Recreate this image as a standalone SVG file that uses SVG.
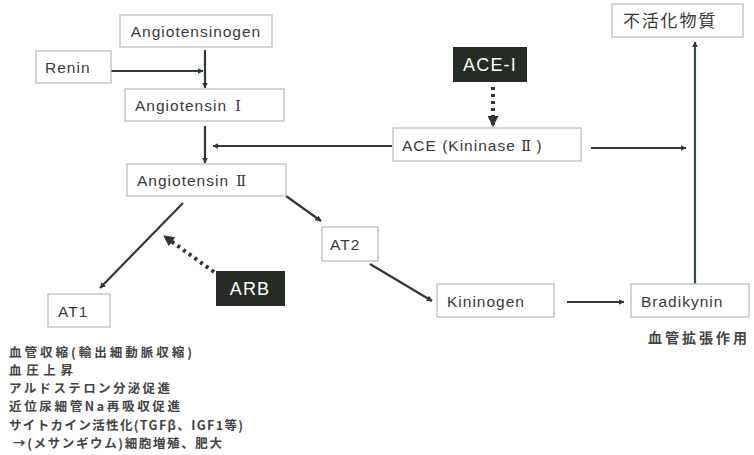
<svg xmlns="http://www.w3.org/2000/svg" width="754" height="455" viewBox="0 0 754 455">
<defs>
<marker id="ah" viewBox="0 0 10 10" refX="9" refY="5" markerWidth="6" markerHeight="6" orient="auto" markerUnits="userSpaceOnUse">
<path d="M0,0 L10,5 L0,10 z" fill="#2f3a2f"/>
</marker>
<marker id="ah2" viewBox="0 0 10 10" refX="9" refY="5" markerWidth="11" markerHeight="11" orient="auto" markerUnits="userSpaceOnUse">
<path d="M0,0 L10,5 L0,10 z" fill="#2f3a2f"/>
</marker>
<style>
.box{fill:#fff;stroke:#b8b8b8;stroke-width:1.2}
.dark{fill:#262b26;stroke:none}
.t{font-family:"Liberation Sans",Arial,sans-serif;font-size:15.5px;letter-spacing:1px;fill:#3a3a3a}
.r{font-family:"DejaVu Serif","Liberation Serif",serif;font-size:15px;letter-spacing:0}
.w{font-family:"Liberation Sans",Arial,sans-serif;font-size:18px;letter-spacing:1.2px;fill:#fff}
.j{font-family:"Noto Sans CJK JP","Noto Sans",sans-serif;font-size:12.5px;fill:#444;font-weight:bold}
.ln{stroke:#2f3a2f;stroke-width:2.2;fill:none;marker-end:url(#ah)}
.dt{stroke:#2f3a2f;stroke-width:4;fill:none;stroke-dasharray:3 4;marker-end:url(#ah2)}
</style>
</defs>
<rect width="754" height="455" fill="#fff"/>
<g id="connectors">
<line class="ln" x1="205" y1="50" x2="205" y2="88"/>
<line class="ln" x1="111" y1="71" x2="203" y2="71"/>
<line class="ln" x1="205" y1="126" x2="205" y2="163"/>
<line class="ln" x1="392" y1="146" x2="213" y2="146"/>
<line class="ln" x1="591" y1="148" x2="686" y2="148"/>
<line class="ln" x1="695" y1="284" x2="695" y2="42" style="stroke:#35503f"/>
<line class="ln" x1="183" y1="203" x2="100" y2="288"/>
<line class="ln" x1="286" y1="196" x2="321" y2="221"/>
<line class="ln" x1="370" y1="264" x2="432" y2="301"/>
<line class="ln" x1="567" y1="302" x2="624" y2="302"/>
<line class="dt" x1="493" y1="87" x2="493" y2="126"/>
<line class="dt" x1="214" y1="272" x2="164" y2="236"/>
</g>
<g id="angiotensinogen"><rect class="box" x="120" y="15" width="152" height="32"/><text class="t" x="196" y="37" text-anchor="middle">Angiotensinogen</text></g>
<g id="renin"><rect class="box" x="36" y="51" width="75" height="32"/><text class="t" x="45" y="73">Renin</text></g>
<g id="angiotensin1"><rect class="box" x="125" y="89" width="159" height="32"/><text class="t" x="135" y="111">Angiotensin <tspan class="r" x="235">Ⅰ</tspan></text></g>
<g id="angiotensin2"><rect class="box" x="127" y="164" width="159" height="32"/><text class="t" x="137" y="186">Angiotensin <tspan class="r" x="236">Ⅱ</tspan></text></g>
<g id="ace-i"><rect class="dark" x="453" y="47" width="74" height="35"/><text class="w" x="490" y="71" text-anchor="middle">ACE-I</text></g>
<g id="ace"><rect class="box" x="393" y="128" width="188" height="33"/><text class="t" x="402" y="151">ACE (Kininase <tspan class="r">Ⅱ</tspan> )</text></g>
<g id="inactive"><rect class="box" x="612" y="4" width="131" height="33"/><text class="j" x="623" y="27" style="font-size:17px;letter-spacing:1.8px;font-weight:normal;fill:#3a3a3a">不活化物質</text></g>
<g id="at1"><rect class="box" x="48" y="294" width="62" height="33"/><text class="t" x="58" y="317">AT1</text></g>
<g id="arb"><rect class="dark" x="216" y="271" width="69" height="35"/><text class="w" x="250" y="295" text-anchor="middle">ARB</text></g>
<g id="at2"><rect class="box" x="322" y="227" width="56" height="34"/><text class="t" x="330" y="250">AT2</text></g>
<g id="kininogen"><rect class="box" x="437" y="284" width="117" height="33"/><text class="t" x="447" y="307">Kininogen</text></g>
<g id="bradikynin"><rect class="box" x="631" y="284" width="118" height="33"/><text class="t" x="641" y="307">Bradikynin</text></g>
<text class="j" x="648" y="343" style="font-size:14px;letter-spacing:3px">血管拡張作用</text>
<g id="at1-effects" class="j">
<text x="9" y="357" textLength="183" lengthAdjust="spacing">血管収縮(輸出細動脈収縮)</text>
<text x="9" y="375" textLength="64" lengthAdjust="spacing">血圧上昇</text>
<text x="9" y="393" textLength="161" lengthAdjust="spacing">アルドステロン分泌促進</text>
<text x="9" y="411" textLength="171" lengthAdjust="spacing">近位尿細管Na再吸収促進</text>
<text x="9" y="430" textLength="234" lengthAdjust="spacing">サイトカイン活性化(TGFβ、IGF1等)</text>
<text x="13" y="448" textLength="209" lengthAdjust="spacing">→(メサンギウム)細胞増殖、肥大</text>
</g>
</svg>
